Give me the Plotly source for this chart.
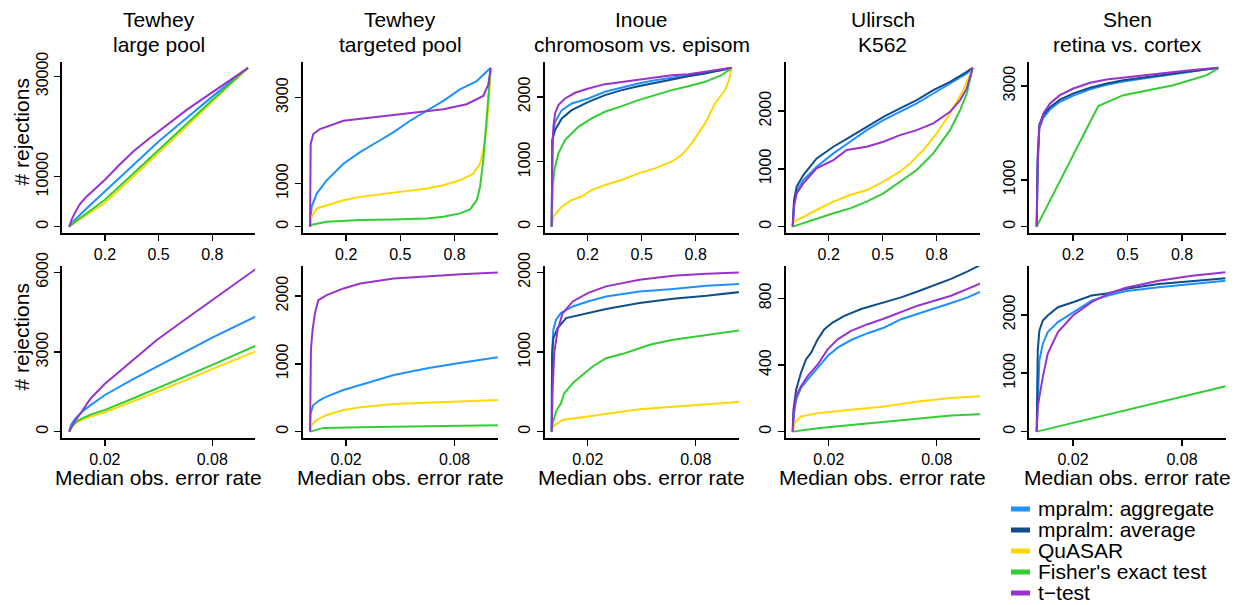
import plotly.graph_objects as go

W, H = 1239, 605

METHODS = ["mpralm: aggregate", "mpralm: average", "QuASAR", "Fisher's exact test", "t-test"]
LEGEND_LABELS = {
    "mpralm: aggregate": "mpralm: aggregate",
    "mpralm: average": "mpralm: average",
    "QuASAR": "QuASAR",
    "Fisher's exact test": "Fisher's exact test",
    "t-test": "t\u2212test",
}
COLORS = {
    "mpralm: aggregate": "#1E90FF",
    "mpralm: average": "#104E8B",
    "QuASAR": "#FFD700",
    "Fisher's exact test": "#32CD32",
    "t-test": "#9932CC",
}

TITLES = [("Tewhey", "large pool"), ("Tewhey", "targeted pool"),
          ("Inoue", "chromosom vs. episom"), ("Ulirsch", "K562"),
          ("Shen", "retina vs. cortex")]

# ---------------- top row (x: fraction, 0..1) ----------------
tewhey_large_top = {
    "mpralm: aggregate": ([0, 0.03, 0.1, 0.2, 0.35, 0.5, 0.65, 0.8, 1.0],
                          [0, 1300, 3720, 7030, 12000, 17000, 21500, 25960, 31700]),
    "QuASAR": ([0, 0.03, 0.1, 0.2, 0.35, 0.5, 0.65, 0.8, 1.0],
               [0, 800, 2400, 4720, 9700, 14680, 19800, 24960, 31700]),
    "Fisher's exact test": ([0, 0.03, 0.1, 0.2, 0.35, 0.5, 0.65, 0.8, 1.0],
                            [0, 900, 2730, 5380, 10300, 15340, 20300, 25300, 31700]),
    "t-test": ([0, 0.015, 0.032, 0.06, 0.098, 0.15, 0.2, 0.28, 0.358, 0.43, 0.498, 0.58, 0.657, 0.73, 0.806, 0.9, 1.0],
               [0, 1500, 2730, 4500, 6036, 7800, 9360, 12300, 15000, 17100, 18980, 21200, 23300, 25100, 26950, 29200, 31700]),
}
tewhey_targeted_top = {
    "mpralm: aggregate": ([0, 0.009, 0.037, 0.092, 0.185, 0.277, 0.369, 0.461, 0.554, 0.646, 0.738, 0.830, 0.923, 1.0],
                          [0, 462, 769, 1077, 1462, 1731, 1962, 2192, 2462, 2692, 2923, 3192, 3385, 3692]),
    "QuASAR": ([0, 0.009, 0.037, 0.092, 0.185, 0.277, 0.461, 0.554, 0.646, 0.738, 0.830, 0.904, 0.941, 0.959, 0.978, 0.989, 1.0],
               [0, 231, 423, 500, 615, 692, 785, 831, 885, 962, 1077, 1231, 1462, 1769, 2308, 2923, 3692]),
    "Fisher's exact test": ([0, 0.005, 0.092, 0.277, 0.461, 0.646, 0.738, 0.830, 0.886, 0.923, 0.941, 0.959, 0.978, 1.0],
                            [0, 40, 115, 154, 169, 192, 231, 308, 400, 615, 923, 1538, 2538, 3692]),
    "t-test": ([0, 0.0037, 0.018, 0.055, 0.185, 0.369, 0.554, 0.738, 0.867, 0.959, 0.987, 1.0],
               [0, 1923, 2154, 2269, 2462, 2554, 2631, 2731, 2846, 3038, 3308, 3692]),
}
inoue_top = {
    "mpralm: aggregate": ([0, 0.0037, 0.0185, 0.056, 0.111, 0.204, 0.296, 0.389, 0.481, 0.574, 0.667, 0.759, 0.852, 0.944, 1.0],
                          [0, 1333, 1615, 1795, 1897, 1974, 2077, 2144, 2205, 2256, 2297, 2333, 2369, 2410, 2446]),
    "mpralm: average": ([0, 0.0037, 0.0185, 0.056, 0.111, 0.204, 0.296, 0.389, 0.481, 0.574, 0.667, 0.759, 0.852, 0.944, 1.0],
                        [0, 1333, 1487, 1667, 1795, 1923, 2026, 2103, 2164, 2215, 2272, 2318, 2359, 2410, 2446]),
    "QuASAR": ([0, 0.0093, 0.056, 0.111, 0.167, 0.222, 0.296, 0.389, 0.481, 0.574, 0.667, 0.722, 0.778, 0.852, 0.907, 0.963, 0.985, 1.0],
               [0, 154, 308, 410, 462, 564, 641, 718, 821, 897, 1000, 1103, 1282, 1590, 1897, 2103, 2256, 2446]),
    "Fisher's exact test": ([0, 0.0056, 0.0148, 0.037, 0.074, 0.148, 0.222, 0.296, 0.389, 0.481, 0.574, 0.667, 0.759, 0.852, 0.944, 1.0],
                            [0, 615, 872, 1128, 1333, 1538, 1667, 1769, 1856, 1949, 2026, 2103, 2164, 2231, 2333, 2446]),
    "t-test": ([0, 0.0037, 0.0093, 0.0185, 0.037, 0.074, 0.130, 0.204, 0.296, 0.389, 0.481, 0.574, 0.667, 0.759, 0.852, 0.944, 1.0],
               [0, 1179, 1538, 1744, 1872, 1974, 2062, 2128, 2195, 2231, 2256, 2297, 2333, 2349, 2385, 2421, 2446]),
}
ulirsch_top = {
    "mpralm: aggregate": ([0, 0.0074, 0.022, 0.059, 0.133, 0.226, 0.319, 0.411, 0.504, 0.596, 0.689, 0.781, 0.874, 0.967, 1.0],
                          [0, 403, 605, 807, 1037, 1268, 1470, 1671, 1844, 1988, 2133, 2305, 2478, 2651, 2749]),
    "mpralm: average": ([0, 0.0074, 0.022, 0.059, 0.133, 0.226, 0.319, 0.411, 0.504, 0.596, 0.689, 0.781, 0.874, 0.967, 1.0],
                        [0, 461, 692, 893, 1182, 1383, 1556, 1729, 1902, 2046, 2190, 2363, 2507, 2680, 2749]),
    "QuASAR": ([0, 0.003, 0.133, 0.226, 0.319, 0.411, 0.504, 0.596, 0.652, 0.726, 0.8, 0.874, 0.948, 1.0],
               [0, 80, 288, 432, 548, 634, 778, 951, 1095, 1326, 1614, 1960, 2363, 2749]),
    "Fisher's exact test": ([0, 0.133, 0.226, 0.319, 0.411, 0.504, 0.596, 0.689, 0.781, 0.874, 0.930, 0.967, 1.0],
                            [0, 144, 231, 317, 432, 576, 778, 980, 1268, 1671, 2017, 2305, 2749]),
    "t-test": ([0, 0.0074, 0.022, 0.059, 0.133, 0.226, 0.3, 0.411, 0.504, 0.596, 0.689, 0.781, 0.874, 0.930, 0.967, 1.0],
               [0, 346, 576, 749, 1009, 1153, 1326, 1383, 1470, 1585, 1671, 1787, 1988, 2190, 2392, 2749]),
}
shen_top = {
    "mpralm: aggregate": ([0, 0.0055, 0.0147, 0.0367, 0.0734, 0.128, 0.202, 0.294, 0.385, 0.477, 0.569, 0.661, 0.752, 0.844, 0.936, 1.0],
                          [0, 1400, 2100, 2320, 2500, 2665, 2800, 2930, 3030, 3100, 3152, 3202, 3262, 3314, 3352, 3390]),
    "mpralm: average": ([0, 0.0055, 0.0147, 0.0367, 0.0734, 0.128, 0.202, 0.294, 0.385, 0.477, 0.569, 0.661, 0.752, 0.844, 0.936, 1.0],
                        [0, 1500, 2180, 2380, 2550, 2710, 2845, 2965, 3055, 3125, 3175, 3222, 3275, 3322, 3358, 3390]),
    "Fisher's exact test": ([0, 0.339, 0.477, 0.569, 0.661, 0.752, 0.844, 0.936, 1.0],
                            [0, 2573, 2807, 2879, 2949, 3020, 3127, 3234, 3380]),
    "t-test": ([0, 0.0055, 0.0147, 0.0367, 0.0734, 0.128, 0.202, 0.294, 0.385, 0.477, 0.569, 0.661, 0.752, 0.844, 0.936, 1.0],
               [0, 1279, 2132, 2416, 2630, 2807, 2949, 3070, 3141, 3184, 3226, 3255, 3305, 3340, 3369, 3390]),
}

# ---------------- bottom row (x: median observed error rate) ----------------
tewhey_large_bottom = {
    "mpralm: aggregate": ([0, 0.001, 0.003, 0.0067, 0.012, 0.02, 0.035, 0.05, 0.065, 0.08, 0.1064],
                          [0, 250, 450, 720, 1000, 1380, 1950, 2480, 3000, 3540, 4404]),
    "QuASAR": ([0, 0.0015, 0.004, 0.0067, 0.012, 0.02, 0.035, 0.05, 0.065, 0.08, 0.1064],
               [0, 180, 340, 430, 570, 730, 1120, 1520, 1930, 2354, 3083]),
    "Fisher's exact test": ([0, 0.0015, 0.004, 0.0067, 0.012, 0.02, 0.035, 0.05, 0.065, 0.08, 0.1064],
                            [0, 200, 380, 480, 640, 819, 1230, 1640, 2080, 2517, 3298]),
    "t-test": ([0, 0.003, 0.0067, 0.012, 0.02, 0.033, 0.049, 0.066, 0.082, 0.1064],
               [0, 380, 720, 1250, 1800, 2550, 3450, 4280, 5050, 6226]),
}
tewhey_targeted_bottom = {
    "mpralm: aggregate": ([0, 0.0003, 0.0018, 0.0055, 0.0092, 0.0185, 0.0278, 0.0371, 0.0464, 0.065, 0.0836, 0.104],
                          [0, 270, 393, 467, 516, 614, 688, 762, 835, 934, 1017, 1096]),
    "QuASAR": ([0, 0.0009, 0.0037, 0.0092, 0.0185, 0.0278, 0.0464, 0.065, 0.0836, 0.104],
               [0, 98, 172, 246, 319, 359, 408, 428, 452, 467]),
    "Fisher's exact test": ([0, 0.0037, 0.0075, 0.0278, 0.0464, 0.065, 0.0836, 0.104],
                            [0, 25, 55, 64, 74, 84, 88, 93]),
    "t-test": ([0, 0.0002, 0.0005, 0.0014, 0.0027, 0.0046, 0.0092, 0.0185, 0.0278, 0.0464, 0.065, 0.0836, 0.104],
               [0, 614, 1204, 1499, 1744, 1941, 2015, 2113, 2187, 2260, 2295, 2324, 2349]),
}
inoue_bottom = {
    "mpralm: aggregate": ([0, 0.0002, 0.0009, 0.0024, 0.0051, 0.0117, 0.02, 0.0302, 0.0488, 0.0674, 0.086, 0.1045],
                          [0, 985, 1279, 1405, 1488, 1572, 1635, 1698, 1761, 1790, 1832, 1853]),
    "mpralm: average": ([0, 0.0002, 0.0009, 0.0033, 0.008, 0.02, 0.0302, 0.0488, 0.0674, 0.086, 0.1045],
                        [0, 943, 1174, 1300, 1426, 1488, 1539, 1614, 1669, 1706, 1753]),
    "QuASAR": ([0, 0.0005, 0.0061, 0.02, 0.0302, 0.0488, 0.0674, 0.086, 0.1045],
               [0, 63, 147, 189, 222, 281, 314, 348, 373]),
    "Fisher's exact test": ([0, 0.0005, 0.0024, 0.0051, 0.007, 0.0117, 0.0172, 0.0228, 0.0302, 0.0395, 0.0488, 0.0544, 0.0674, 0.086, 0.1045],
                            [0, 105, 252, 356, 482, 608, 713, 818, 922, 977, 1048, 1090, 1153, 1216, 1270]),
    "t-test": ([0, 0.0005, 0.0014, 0.0033, 0.0061, 0.0117, 0.02, 0.0302, 0.0488, 0.0674, 0.086, 0.1045],
               [0, 524, 985, 1279, 1488, 1635, 1740, 1824, 1908, 1958, 1983, 2000]),
}
ulirsch_bottom = {
    "mpralm: aggregate": ([0, 0.0006, 0.0019, 0.0046, 0.0083, 0.0139, 0.0194, 0.025, 0.0324, 0.0417, 0.0509, 0.0602, 0.0694, 0.0787, 0.088, 0.0972, 0.1046],
                          [0, 101, 192, 262, 312, 383, 454, 504, 550, 591, 625, 675, 706, 740, 772, 806, 841]),
    "mpralm: average": ([0, 0.0004, 0.0019, 0.0046, 0.0074, 0.0102, 0.0139, 0.0176, 0.0222, 0.0287, 0.038, 0.0509, 0.0602, 0.0694, 0.0787, 0.088, 0.0972, 0.1046],
                        [0, 131, 252, 353, 433, 474, 554, 615, 655, 695, 736, 776, 806, 841, 877, 917, 962, 1002]),
    "QuASAR": ([0, 0.0009, 0.0046, 0.0139, 0.0324, 0.0509, 0.0694, 0.088, 0.1046],
               [0, 50, 91, 111, 131, 151, 181, 202, 212]),
    "Fisher's exact test": ([0, 0.0139, 0.0324, 0.0509, 0.0694, 0.088, 0.1046],
                            [0, 20, 40, 60, 81, 97, 105]),
    "t-test": ([0, 0.0006, 0.0019, 0.0046, 0.0083, 0.0139, 0.0194, 0.025, 0.0324, 0.0417, 0.0509, 0.0602, 0.0694, 0.0787, 0.088, 0.0972, 0.1046],
               [0, 111, 212, 272, 333, 403, 494, 554, 605, 645, 679, 716, 756, 786, 816, 857, 891]),
}
shen_bottom = {
    "mpralm: aggregate": ([0, 0.0006, 0.0015, 0.0034, 0.0061, 0.0117, 0.02, 0.0302, 0.0394, 0.0486, 0.0671, 0.0855, 0.104],
                          [0, 653, 1222, 1506, 1705, 1875, 2045, 2244, 2330, 2403, 2472, 2528, 2585]),
    "mpralm: average": ([0, 0.0002, 0.0006, 0.0015, 0.0034, 0.0061, 0.0117, 0.02, 0.0302, 0.0394, 0.0486, 0.0671, 0.0855, 0.104],
                        [0, 824, 1392, 1733, 1903, 1989, 2131, 2216, 2330, 2369, 2443, 2528, 2574, 2625]),
    "Fisher's exact test": ([0, 0.104], [0, 778]),
    "t-test": ([0, 0.0006, 0.0015, 0.0034, 0.0061, 0.0117, 0.02, 0.0302, 0.0394, 0.0486, 0.0671, 0.0855, 0.104],
               [0, 426, 597, 938, 1335, 1705, 1989, 2216, 2358, 2460, 2585, 2670, 2727]),
}

TOP = [tewhey_large_top, tewhey_targeted_top, inoue_top, ulirsch_top, shen_top]
BOTTOM = [tewhey_large_bottom, tewhey_targeted_bottom, inoue_bottom, ulirsch_bottom, shen_bottom]

TOP_YTICKS = [[0, 10000, 30000], [0, 1000, 3000], [0, 1000, 2000], [0, 1000, 2000], [0, 1000, 3000]]
BOTTOM_YTICKS = [[0, 3000, 6000], [0, 1000, 2000], [0, 1000, 2000], [0, 400, 800], [0, 1000, 2000]]
BOTTOM_YLIM = [6000, 2350, 2000, 956, 2727]
TOP_XTICKS = [0.2, 0.5, 0.8]
BOTTOM_XTICKS = [0.02, 0.08]

# ---------------- layout geometry (pixels) ----------------
COL_PX = [(62.0, 255.2), (302.8, 497.9), (544.5, 738.9), (785.5, 979.9), (1029.4, 1225.6)]
ROW_PX = [(61.5, 233.0), (266.0, 438.0)]
FONT = "Liberation Sans, Arial, Helvetica, sans-serif"


def px_x(p):
    return p / W


def px_y(p):
    return 1 - p / H


fig = go.Figure()
layout = dict(
    width=W, height=H, margin=dict(l=0, r=0, t=0, b=0, autoexpand=False),
    paper_bgcolor="white", plot_bgcolor="white", showlegend=False,
    font=dict(family=FONT, size=16, color="black"),
)
annotations = []
shapes = []

axis_common = dict(showgrid=False, zeroline=False, showline=True, linecolor="black",
                   linewidth=2, ticks="outside", ticklen=6, tickwidth=1.5,
                   tickcolor="black", tickfont=dict(size=16, family=FONT, color="black"),
                   fixedrange=True)

for r, (rows, ylims) in enumerate([(TOP, None), (BOTTOM, BOTTOM_YLIM)]):
    for c in range(5):
        idx = r * 5 + c + 1
        xname = "x" if idx == 1 else f"x{idx}"
        yname = "y" if idx == 1 else f"y{idx}"
        panel = rows[c]
        for m in METHODS:
            if m not in panel:
                continue
            xs, ys = panel[m]
            fig.add_trace(go.Scatter(x=xs, y=ys, mode="lines", name=m,
                                     line=dict(color=COLORS[m], width=2),
                                     xaxis=xname, yaxis=yname, hoverinfo="skip"))
        if r == 0:
            ymax = max(max(v[1]) for v in panel.values())
            xlo, xhi = 0.0, 1.0
            xt = TOP_XTICKS
            yt = TOP_YTICKS[c]
        else:
            ymax = ylims[c]
            xlo, xhi = 0.0, 0.1
            xt = BOTTOM_XTICKS
            yt = BOTTOM_YTICKS[c]
        xpad = 0.04 * (xhi - xlo)
        xa = dict(axis_common, domain=[px_x(COL_PX[c][0]), px_x(COL_PX[c][1])],
                  range=[xlo - xpad, xhi + xpad], tickvals=xt,
                  ticktext=[f"{v:g}" for v in xt], anchor=yname)
        ya = dict(axis_common, domain=[px_y(ROW_PX[r][1]), px_y(ROW_PX[r][0])],
                  range=[-0.04 * ymax, 1.04 * ymax], tickvals=yt,
                  ticktext=[str(v) for v in yt], tickangle=-90, anchor=xname)
        layout["xaxis" if idx == 1 else f"xaxis{idx}"] = xa
        layout["yaxis" if idx == 1 else f"yaxis{idx}"] = ya

# panel titles
for c, (t1, t2) in enumerate(TITLES):
    cx = px_x((COL_PX[c][0] + COL_PX[c][1]) / 2)
    for text, ypx in [(t1, 19.5), (t2, 44.5)]:
        annotations.append(dict(text=text, x=cx, y=px_y(ypx), xref="paper", yref="paper",
                                xanchor="center", yanchor="middle", showarrow=False,
                                font=dict(size=21, family=FONT, color="black")))
# y axis titles
for ypx in [132.5, 337.5]:
    annotations.append(dict(text="# rejections", x=px_x(21), y=px_y(ypx), xref="paper", yref="paper",
                            xanchor="center", yanchor="middle", textangle=-90, showarrow=False,
                            font=dict(size=21, family=FONT, color="black")))
# x axis titles (bottom row)
for c in range(5):
    cx = px_x((COL_PX[c][0] + COL_PX[c][1]) / 2)
    annotations.append(dict(text="Median obs. error rate", x=cx, y=px_y(477.5), xref="paper", yref="paper",
                            xanchor="center", yanchor="middle", showarrow=False,
                            font=dict(size=21, family=FONT, color="black")))
# legend
LEGEND_ROWS_PX = [509, 530, 551, 572, 593]
for m, ypx in zip(METHODS, LEGEND_ROWS_PX):
    shapes.append(dict(type="line", xref="paper", yref="paper",
                       x0=px_x(1011), x1=px_x(1030), y0=px_y(ypx), y1=px_y(ypx),
                       line=dict(color=COLORS[m], width=5)))
    annotations.append(dict(text=LEGEND_LABELS[m], x=px_x(1036), y=px_y(ypx - 1), xref="paper", yref="paper",
                            xanchor="left", yanchor="middle", showarrow=False,
                            font=dict(size=21, family=FONT, color="black")))

layout["annotations"] = annotations
layout["shapes"] = shapes
fig.update_layout(**layout)
fig.write_html("out.html", config={"displayModeBar": False, "staticPlot": True},
               post_script="document.body.style.margin='0px';document.body.style.overflow='hidden';")
